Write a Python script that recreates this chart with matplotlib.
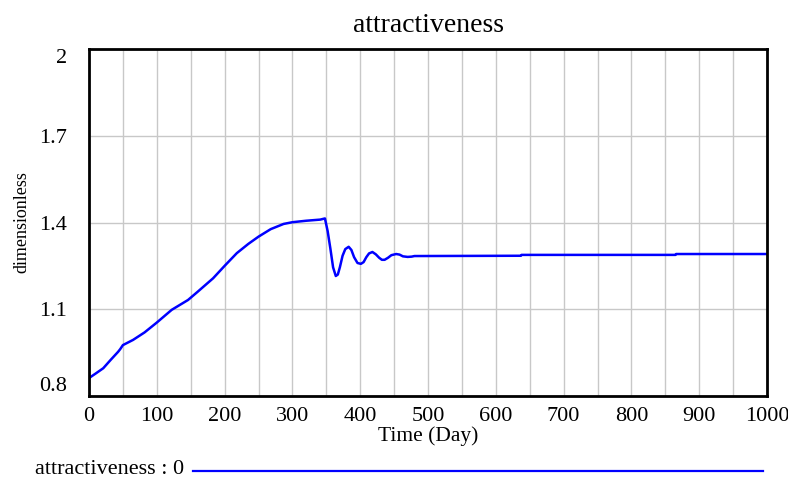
import matplotlib
matplotlib.use("Agg")
import matplotlib.pyplot as plt
from matplotlib.lines import Line2D
import numpy as np

# attractiveness over time
time_days = [0, 10, 21, 32, 43, 46, 50, 65, 82, 100, 122, 146, 160, 183, 200, 218,
             235, 250, 268, 287, 300, 320, 341, 348, 352, 356, 360, 364, 367, 370,
             374, 378, 383, 387, 391, 396, 401, 405, 409, 413, 418, 423, 428, 432,
             436, 441, 446, 453, 458, 463, 470, 476, 480, 637, 638, 865, 866, 1000]
attractiveness = [0.862, 0.878, 0.896, 0.925, 0.953, 0.962, 0.976, 0.994, 1.020, 1.054,
                  1.098, 1.132, 1.160, 1.207, 1.250, 1.294, 1.326, 1.351, 1.377, 1.395,
                  1.401, 1.406, 1.410, 1.414, 1.370, 1.310, 1.245, 1.215, 1.220, 1.245,
                  1.285, 1.308, 1.316, 1.305, 1.280, 1.260, 1.257, 1.263, 1.280, 1.293,
                  1.298, 1.290, 1.278, 1.271, 1.271, 1.278, 1.287, 1.291, 1.289, 1.283,
                  1.281, 1.282, 1.284, 1.285, 1.288, 1.288, 1.291, 1.291]

x_ticks = list(range(0, 1001, 100))
y_ticks = [0.8, 1.1, 1.4, 1.7, 2.0]
y_tick_labels = ["0.8", "1.1", "1.4", "1.7", "2"]

plt.rcParams['font.family'] = ['Liberation Serif', 'DejaVu Serif']

fig = plt.figure(figsize=(7.88, 4.82), dpi=100)
ax = fig.add_axes([89 / 788, 86 / 482, 678 / 788, 347 / 482])

ax.plot(time_days, attractiveness, color='#0000ff', lw=1.8)

ax.set_xlim(0, 1000)
ax.set_ylim(0.8, 2.0)
ax.set_xticks(x_ticks)
ax.set_xticks(np.arange(50, 1000, 100), minor=True)
ax.set_yticks(y_ticks)
ax.set_yticklabels(y_tick_labels)
ax.tick_params(axis='both', which='both', length=0, labelsize=16)
ax.tick_params(axis='y', pad=16)
ax.tick_params(axis='x', pad=8)
ylabs = ax.get_yticklabels()
ylabs[0].set_va('bottom')
ylabs[-1].set_va('top')

ax.grid(True, which='both', color='#c8c8c8', lw=1)
ax.set_axisbelow(True)
for s in ax.spines.values():
    s.set_linewidth(2)
    s.set_color('black')

ax.set_title('attractiveness', fontsize=20, pad=12)
ax.set_ylabel('dimensionless', fontsize=13, labelpad=6)
ax.set_xlabel('Time (Day)', fontsize=15.5, labelpad=0)

# legend row at the bottom, Vensim style
fig.text(35 / 788, 1 - 469 / 482, 'attractiveness : 0', fontsize=16, va='center', ha='left')
fig.add_artist(Line2D([193 / 788, 763 / 788], [1 - 471 / 482, 1 - 471 / 482],
                      color='#0000ff', lw=1.6, transform=fig.transFigure))

fig.savefig('out.png', dpi=100)
